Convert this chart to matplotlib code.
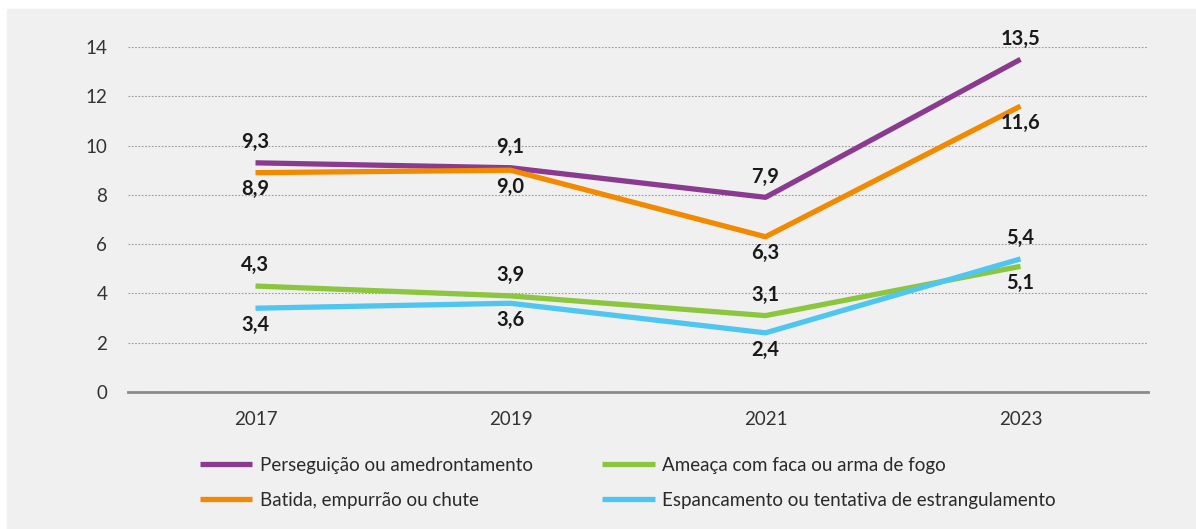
import matplotlib.pyplot as plt
from matplotlib.patches import Rectangle

years = ["2017", "2019", "2021", "2023"]
perseguicao = [9.3, 9.1, 7.9, 13.5]
batida = [8.9, 9.0, 6.3, 11.6]
ameaca = [4.3, 3.9, 3.1, 5.1]
espancamento = [3.4, 3.6, 2.4, 5.4]

names = ["Perseguição ou amedrontamento", "Batida, empurrão ou chute",
         "Ameaça com faca ou arma de fogo", "Espancamento ou tentativa de estrangulamento"]
colors = ["#8b3b8f", "#f28a00", "#8cc63f", "#4fc6f2"]
# label above (+1) or below (-1) each point
sides = [[1, 1, 1, 1], [-1, -1, -1, -1], [1, 1, 1, -1], [-1, -1, -1, 1]]

plt.rcParams["font.family"] = ["Lato", "DejaVu Sans"]

fig = plt.figure(figsize=(11.96, 5.29), dpi=100)
fig.patches.append(Rectangle((7 / 1196, 0), 1, 1 - 9 / 529, transform=fig.transFigure,
                             color="#f0f0f0", zorder=-10))
ax = fig.add_axes([128 / 1196, 1 - 392 / 529, 1020 / 1196, 345 / 529])
ax.set_facecolor("none")

x = list(range(len(years)))
series = [perseguicao, batida, ameaca, espancamento]
for vals, c, name, side in zip(series, colors, names, sides):
    ax.plot(x, vals, color=c, lw=3.8, label=name, solid_capstyle="butt", zorder=3)
    for xi, v, s in zip(x, vals, side):
        ax.annotate(f"{v:.1f}".replace(".", ","), (xi, v),
                    xytext=(0, 15 if s > 0 else -12), textcoords="offset points",
                    ha="center", va="center", fontsize=14.5, fontweight="bold",
                    color="#1a1a1a", zorder=4)

ax.set_xlim(-0.5, 3.5)
ax.set_ylim(0, 14)
ax.set_yticks(range(0, 15, 2))
ax.set_xticks(x)
ax.set_xticklabels(years)
ax.tick_params(length=0, labelsize=13.5, colors="#333333")
ax.tick_params(axis="y", pad=15)
ax.tick_params(axis="x", pad=14)
ax.grid(axis="y", linestyle=(0, (1.5, 1.5)), color="#9a9a9a", lw=0.8)
ax.set_axisbelow(True)
for sp in ["top", "right", "left"]:
    ax.spines[sp].set_visible(False)
ax.spines["bottom"].set_color("#8a8a8a")
ax.spines["bottom"].set_linewidth(2)

h, l = ax.get_legend_handles_labels()
fig.legend(h, l, ncol=2, loc="upper left", bbox_to_anchor=(183 / 1196, 1 - 440 / 529),
           frameon=False, fontsize=13.5, handlelength=2.8, columnspacing=3.7,
           labelspacing=0.95, handletextpad=0.4, labelcolor="#2a2a2a")

fig.savefig("out.png", dpi=100)
